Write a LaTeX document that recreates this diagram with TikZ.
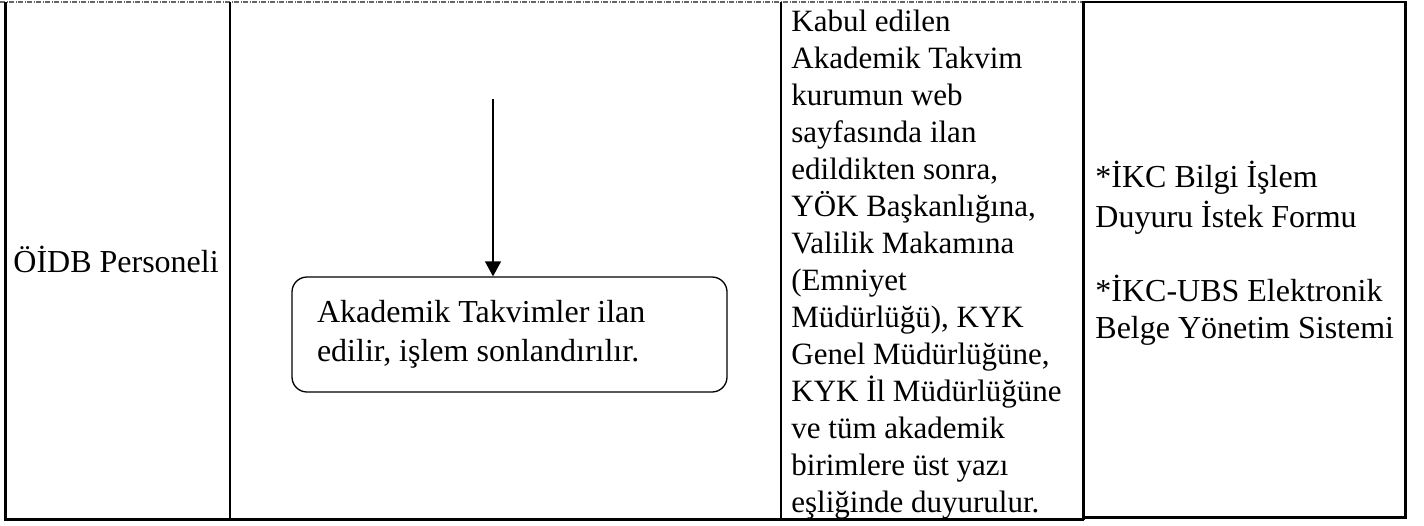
\documentclass[tikz,border=0pt]{standalone}
\usepackage{fontspec}
\setmainfont{Liberation Serif}
\usetikzlibrary{arrows.meta}
\tikzset{
  frame/.style={line width=1.3pt},
  sepline/.style={line width=1pt},
  topdash/.style={gray!80!black, line width=0.7pt, dash pattern=on 2.5pt off 0.75pt on 0.5pt off 0.75pt},
  txt/.style={font=\fontsize{16pt}{18.5pt}\selectfont, inner sep=0pt, align=flush left},
  desctxt/.style={font=\fontsize{15.5pt}{18.5pt}\selectfont, inner sep=0pt, align=flush left},
  stepbox/.style={draw, line width=0.65pt, rounded corners=7.5pt,
    minimum width=217.5pt, minimum height=57.5pt, text width=192.5pt,
    inner xsep=12.5pt, inner ysep=0pt, align=flush left,
    font=\fontsize{16pt}{19.5pt}\selectfont},
  flow/.style={line width=0.65pt, -{Triangle[width=8pt,length=7.5pt]}},
}
\begin{document}
\begin{tikzpicture}[x=0.5pt,y=-0.5pt]
\useasboundingbox (0,0) rectangle (1424,525);
% table lines
\draw[topdash] (0,2) -- (1083,2);
\draw[frame] (5.5,2) -- (5.5,519.5) -- (1083.5,519.5);
\draw[sepline] (230,2) -- (230,519.5);
\draw[sepline] (781,2) -- (781,519.5);
\draw[frame] (1083.5,2) -- (1083.5,519.5);
\draw[frame] (1083.5,2) rectangle (1405.5,517.5);
% texts
\node[txt, anchor=base west] (role) at (13,272) {ÖİDB Personeli};
\node[stepbox] (box) at (509.5,334.5) {\strut Akademik Takvimler ilan\\edilir, işlem sonlandırılır.\strut};
\coordinate (start) at (493,99);
\draw[flow] (start) -- (start |- box.north);
\node[desctxt, anchor=north west] (desc) at (791,5) {\strut Kabul edilen\\Akademik Takvim\\kurumun web\\sayfasında ilan\\edildikten sonra,\\YÖK Başkanlığına,\\Valilik Makamına\\(Emniyet\\Müdürlüğü), KYK\\Genel Müdürlüğüne,\\KYK İl Müdürlüğüne\\ve tüm akademik\\birimlere üst yazı\\eşliğinde duyurulur.};
\node[txt, anchor=north west] (docs) at (1095,161.1) {\strut *İKC Bilgi İşlem\\Duyuru İstek Formu\\[18.5pt]*İKC-UBS Elektronik\\Belge Yönetim Sistemi};
\end{tikzpicture}
\end{document}
